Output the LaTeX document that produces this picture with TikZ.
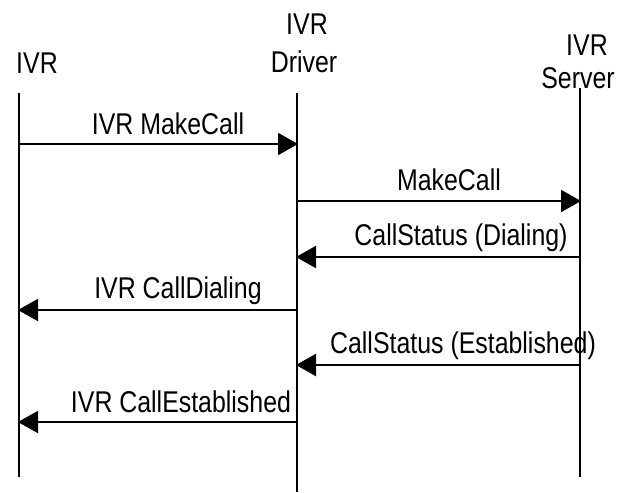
\documentclass[tikz,border=0pt]{standalone}
\usepackage{fontspec}
\setmainfont{Liberation Sans}
\usetikzlibrary{arrows.meta}
\tikzset{
  lbl/.style={inner sep=0pt, font=\fontsize{30}{38}\selectfont},
  life/.style={line width=1.6pt},
  msg/.style={line width=2.2pt, -{Triangle[length=20pt,width=22pt]}, shorten >=-1pt},
}
\newcommand\sq[1]{\scalebox{0.83}[1]{#1}}
\begin{document}
\begin{tikzpicture}[x=1pt,y=-1pt]
\useasboundingbox (0,0) rectangle (625,493);
% headers
\node[lbl] (hivr) at (37,63) {\sq{IVR}};
\node[lbl] (hdrv1) at (307,24) {\sq{IVR}};
\node[lbl] (hdrv2) at (304,62) {\sq{Driver}};
\node[lbl] (hsrv1) at (587,45) {\sq{IVR}};
\node[lbl] (hsrv2) at (578,78) {\sq{Server}};
% lifelines
\coordinate (ivrT) at (19,93);
\coordinate (ivrB) at (19,477);
\coordinate (drvT) at (297,93);
\coordinate (drvB) at (297,492);
\coordinate (srvT) at (580,88);
\coordinate (srvB) at (580,477);
\draw[life] (ivrT) -- (ivrB);
\draw[life] (drvT) -- (drvB);
\draw[life] (srvT) -- (srvB);
% message endpoints
\coordinate (m1a) at (19,144);  \coordinate (m1b) at (297,144);
\coordinate (m2a) at (297,201); \coordinate (m2b) at (580,201);
\coordinate (m3a) at (580,257); \coordinate (m3b) at (297,257);
\coordinate (m4a) at (297,310); \coordinate (m4b) at (19,310);
\coordinate (m5a) at (580,365); \coordinate (m5b) at (297,365);
\coordinate (m6a) at (297,422); \coordinate (m6b) at (19,422);
\draw[msg] (m1a) -- (m1b);
\draw[msg] (m2a) -- (m2b);
\draw[msg] (m3a) -- (m3b);
\draw[msg] (m4a) -- (m4b);
\draw[msg] (m5a) -- (m5b);
\draw[msg] (m6a) -- (m6b);
% labels
\node[lbl] (l1) at (168,124) {\sq{IVR MakeCall}};
\node[lbl] (l2) at (449,180) {\sq{MakeCall}};
\node[lbl] (l3) at (461,238) {\sq{CallStatus (Dialing)}};
\node[lbl] (l4) at (178,291) {\sq{IVR CallDialing}};
\node[lbl] (l5) at (463,346) {\sq{CallStatus (Established)}};
\node[lbl] (l6) at (181,402) {\sq{IVR CallEstablished}};
\end{tikzpicture}
\end{document}
